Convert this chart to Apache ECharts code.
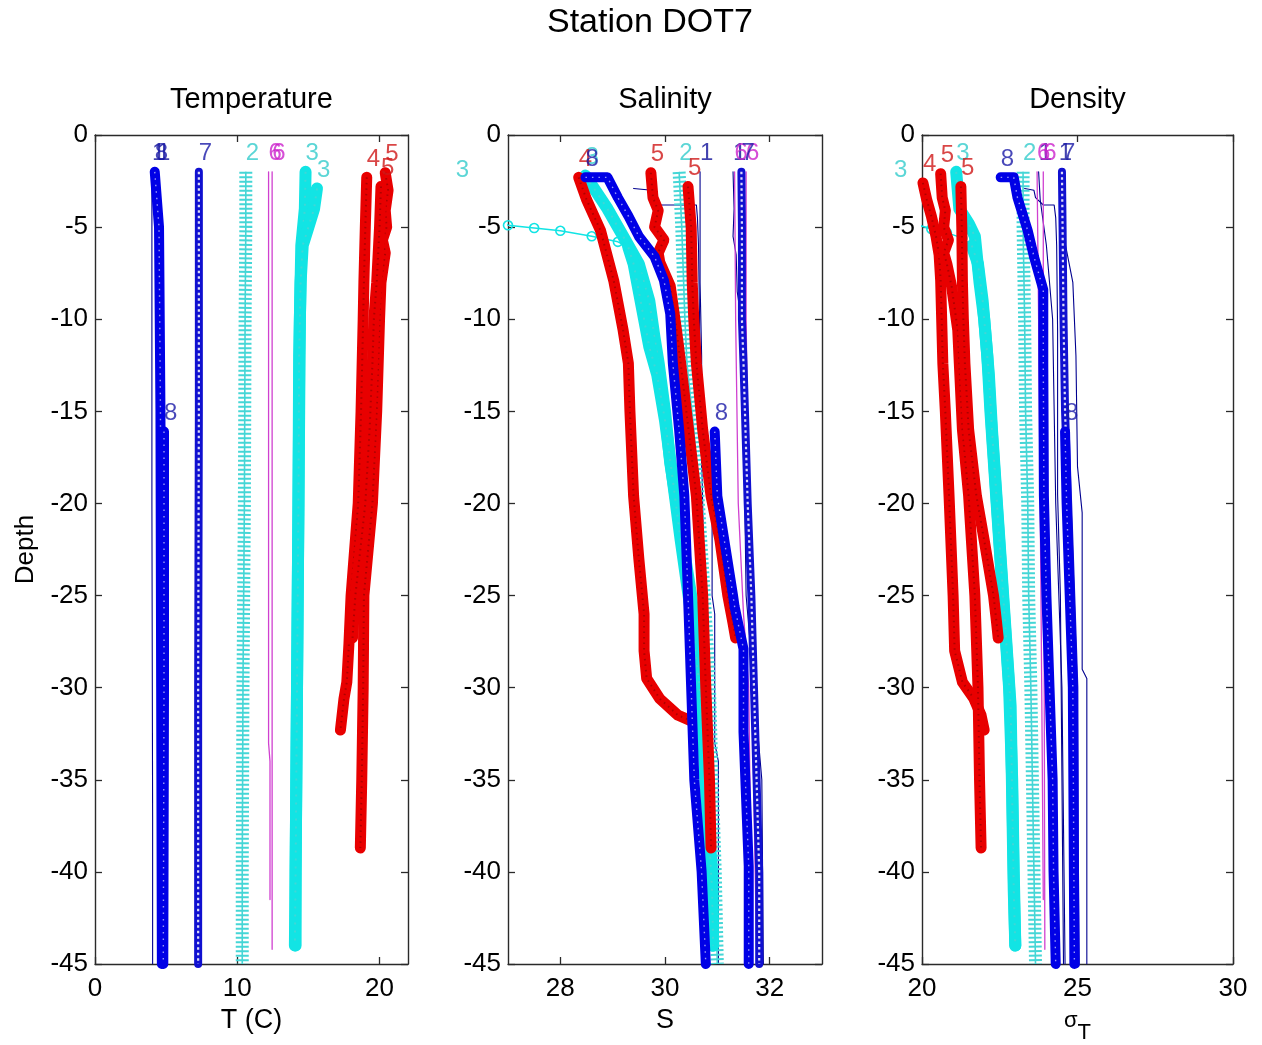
<!DOCTYPE html>
<html><head><meta charset="utf-8">
<script src="https://cdn.jsdelivr.net/npm/echarts@6/dist/echarts.min.js"></script>
<style>html,body{margin:0;padding:0;background:#fff}#c{width:1262px;height:1045px}</style>
</head><body><div id="c"></div>
<script>
// ---------- tick labels ----------
const tempTicks = [0, 10, 20];
const salTicks = [28, 30, 32];
const denTicks = [20, 25, 30];

// ---------- cast 1 (thin navy lines) : [value, depth] ----------
const T1a = [[4.0,-2],[4.0,-20],[4.05,-37],[4.05,-45]];
const S1a = [[30.67,-2],[30.67,-8],[30.7,-12],[30.7,-18],[30.9,-19.6],[30.9,-25],[30.95,-26],[30.95,-33],[31.02,-34],[31.02,-45]];
const D1a = [[24.4,-2],[24.5,-5],[24.85,-8],[24.95,-12],[25.0,-18],[25.15,-20.5],[25.15,-29],[25.3,-29.5],[25.3,-45]];
const T1b = [[4.45,-2.9],[4.5,-10],[4.6,-45]];
const S1b = [[29.4,-2.9],[29.75,-3.0],[29.8,-3.4],[29.85,-3.8],[30.6,-3.8],[30.62,-4.5],[30.64,-6],[30.66,-10],[30.68,-15],[30.72,-20],[30.75,-25],[30.8,-35],[30.85,-45]];
const D1b = [[23.3,-2.9],[23.6,-3.0],[23.65,-3.4],[23.9,-3.8],[24.25,-3.8],[24.3,-4.5],[24.33,-6],[24.36,-10.6],[24.36,-19.5],[24.45,-25],[24.5,-35],[24.55,-45]];
const T1c = [[4.35,-2],[4.4,-20],[4.5,-45]];
const S1c = [[31.3,-2],[31.32,-4],[31.3,-5.5],[31.36,-6.5],[31.38,-8.5],[31.42,-9.3],[31.45,-10],[31.5,-15],[31.55,-25],[31.7,-30],[31.85,-35],[31.88,-45]];
const D1c = [[23.75,-2],[23.8,-3.5],[24.0,-6],[24.2,-10],[24.3,-20],[24.5,-30],[24.6,-45]];

// ---------- cast 2 (cyan +) ----------
const T2 = [[10.6,-2],[10.6,-5],[10.55,-10],[10.5,-20],[10.4,-30],[10.35,-40],[10.35,-45]];
const S2 = [[30.27,-2],[30.32,-5],[30.38,-10],[30.42,-12.4],[30.55,-16],[30.63,-19.6],[30.75,-25],[30.85,-30],[30.9,-35],[30.96,-40],[31.0,-45]];
const D2 = [[23.25,-2],[23.25,-5],[23.3,-10],[23.33,-15],[23.4,-20],[23.43,-25],[23.5,-30],[23.55,-35],[23.6,-40],[23.65,-45]];

// ---------- cast 3 (cyan circles) ----------
const T3a = [[14.8,-2],[14.75,-4],[14.5,-6],[14.4,-10],[14.3,-20],[14.2,-30],[14.1,-40],[14.1,-44]];
const S3a = [[28.48,-2.2],[28.9,-4],[29.2,-5.5],[29.5,-7],[29.7,-9],[29.8,-11],[29.88,-12.4],[30.0,-15],[30.1,-17.8],[30.3,-21.4],[30.5,-25],[30.7,-30],[30.77,-35],[30.9,-40],[30.92,-44]];
const D3a = [[21.1,-2],[21.2,-4],[21.5,-4.8],[21.7,-5.5],[21.85,-8],[22.0,-10],[22.1,-12],[22.2,-15],[22.4,-20],[22.6,-25],[22.8,-30],[22.9,-35],[22.95,-40],[23.0,-44]];
const T3b = [[15.6,-2.9],[15.4,-4],[15.0,-5],[14.6,-6],[14.45,-8],[14.35,-12],[14.3,-20],[14.2,-30],[14.1,-40],[14.05,-44]];
const S3b = [[26.0,-2.9],[26.6,-4],[27.0,-4.9],[27.5,-5.05],[28.0,-5.2],[28.6,-5.5],[29.1,-5.8],[29.3,-6.1],[29.4,-7],[29.5,-8.5],[29.6,-10],[29.7,-11.5],[29.85,-13],[30.0,-15.5],[30.3,-22],[30.5,-26],[30.7,-31],[30.9,-41],[30.92,-44]];
const D3b = [[19.1,-2.9],[19.5,-4],[19.9,-4.9],[20.3,-5.1],[20.8,-5.3],[21.3,-5.6],[21.6,-6.0],[21.8,-7],[21.95,-9],[22.05,-11],[22.15,-13],[22.25,-16],[22.45,-21],[22.65,-26],[22.85,-31],[22.95,-41],[23.0,-44]];

// ---------- cast 4 (red) ----------
const T4 = [[19.1,-2.3],[19.0,-5],[18.9,-8],[18.85,-10],[18.7,-15],[18.5,-20],[18.0,-25],[17.85,-27.6],[17.7,-29.7],[17.5,-30.6],[17.25,-32.3]];
const S4 = [[28.35,-2.3],[28.5,-3.5],[28.77,-5.2],[29.02,-7.9],[29.2,-10.6],[29.3,-12.4],[29.33,-15],[29.4,-19.6],[29.5,-23],[29.6,-26],[29.6,-28],[29.65,-29.5],[29.9,-30.6],[30.25,-31.5],[30.5,-31.8]];
const D4 = [[20.03,-2.6],[20.15,-3.5],[20.3,-4.4],[20.45,-5.5],[20.55,-6.5],[20.6,-7.9],[20.67,-12.4],[20.75,-15],[20.87,-19.6],[21.0,-25],[21.05,-28],[21.3,-29.7],[21.67,-30.6],[21.9,-31.5],[22.0,-32.3]];

// ---------- cast 5 (red) ----------
const T5a = [[20.4,-2.05],[20.6,-3],[20.4,-4.1],[20.5,-5],[20.2,-5.7],[20.4,-6.4],[20.1,-8],[20.0,-10],[19.8,-15],[19.5,-20],[18.9,-25],[18.85,-30],[18.75,-35],[18.65,-38.7]];
const S5a = [[29.73,-2.05],[29.77,-3.4],[29.87,-4.1],[29.8,-5],[29.98,-5.7],[29.87,-6.4],[29.9,-6.9],[30.1,-8.2],[30.22,-10.6],[30.3,-12.4],[30.45,-16],[30.6,-19.6],[30.72,-25],[30.78,-30],[30.85,-35],[30.88,-38.7]];
const D5a = [[20.6,-2.1],[20.65,-3.4],[20.75,-4.1],[20.7,-5],[20.85,-5.7],[20.7,-6.4],[20.8,-7],[20.95,-8.2],[21.15,-10.6],[21.2,-12.4],[21.3,-16],[21.5,-19.6],[21.7,-25],[21.8,-30],[21.85,-35],[21.9,-38.7]];
const T5b = [[20.1,-2.8],[20.0,-5],[19.8,-8],[19.6,-10],[19.5,-12.4],[19.3,-16],[19.0,-20],[18.3,-25],[18.1,-27.3]];
const S5b = [[30.44,-2.8],[30.5,-5],[30.52,-8],[30.55,-10],[30.6,-12.4],[30.72,-16],[30.88,-19.6],[31.05,-22],[31.2,-25],[31.3,-26.5],[31.35,-27.3]];
const D5b = [[21.25,-2.8],[21.28,-5],[21.3,-8],[21.33,-10],[21.38,-12.4],[21.5,-16],[21.75,-19.6],[22.0,-22],[22.3,-25],[22.4,-26.5],[22.45,-27.3]];

// ---------- cast 6 (magenta lines) ----------
const T6a = [[12.2,-2],[12.2,-33],[12.3,-34],[12.3,-41.5]];
const S6a = [[31.33,-2],[31.35,-10],[31.4,-20],[31.5,-26],[31.6,-30],[31.65,-41.5]];
const D6a = [[23.7,-2],[23.75,-10],[23.8,-20],[23.85,-30],[23.9,-41.5]];
const T6b = [[12.45,-2],[12.45,-44.2]];
const S6b = [[31.55,-2],[31.55,-10],[31.6,-20],[31.65,-28],[31.75,-44.2]];
const D6b = [[23.9,-2],[23.9,-10],[23.92,-20],[23.93,-30],[23.95,-44.2]];

// ---------- cast 7 (blue circles) ----------
const T7 = [[7.3,-2],[7.3,-15],[7.25,-30],[7.25,-45]];
const S7 = [[31.46,-2],[31.47,-5],[31.47,-10],[31.5,-12.4],[31.58,-20],[31.65,-25],[31.7,-30],[31.75,-35],[31.8,-40],[31.8,-45]];
const D7 = [[24.5,-2],[24.52,-5],[24.55,-10],[24.6,-15],[24.7,-20],[24.8,-25],[24.9,-30],[24.92,-40],[24.95,-45]];

// ---------- cast 8 (blue squares) ----------
const T8a = [[4.2,-2],[4.3,-3],[4.5,-5],[4.6,-15],[4.65,-30],[4.7,-45]];
const S8a = [[28.48,-2.3],[28.9,-2.3],[29.1,-3.4],[29.3,-4.4],[29.5,-5.5],[29.8,-6.6],[29.98,-7.9],[30.1,-9.7],[30.15,-12.4],[30.27,-16],[30.37,-19.6],[30.44,-25],[30.5,-30],[30.56,-35],[30.7,-40],[30.78,-45]];
const D8a = [[22.53,-2.3],[22.95,-2.3],[23.07,-3.4],[23.4,-5.2],[23.6,-6.6],[23.9,-8.4],[23.9,-12.4],[23.92,-19.6],[24.0,-25],[24.1,-30],[24.2,-35],[24.23,-40],[24.3,-45]];
const T8b = [[4.85,-16.1],[4.85,-30],[4.8,-45]];
const S8b = [[30.95,-16.1],[31.0,-19.6],[31.15,-22.3],[31.3,-25],[31.33,-25.6],[31.5,-27.9],[31.5,-32.4],[31.6,-39.7],[31.6,-45]];
const D8b = [[24.6,-16.1],[24.65,-20],[24.75,-25],[24.85,-30],[24.9,-45]];

// ---------- profile table (built from the arrays above) ----------
// sparse: depth above which samples are widely spaced (drawn as a thin marker line)
const profiles = [
  {label:'1', kind:'navy',   T:T1a, S:S1a, D:D1a},
  {label:null,kind:'navy',   T:T1b, S:S1b, D:D1b},
  {label:'1', kind:'navy',   T:T1c, S:S1c, D:D1c},
  {label:'2', kind:'cyanPl', T:T2,  S:S2,  D:D2},
  {label:'3', kind:'cyanCi', T:T3a, S:S3a, D:D3a},
  {label:'3', kind:'cyanCi', T:T3b, S:S3b, D:D3b, sparse:{S:-6.1, D:-6.0}},
  {label:'4', kind:'red',    T:T4,  S:S4,  D:D4},
  {label:'5', kind:'red',    T:T5a, S:S5a, D:D5a},
  {label:'5', kind:'red',    T:T5b, S:S5b, D:D5b},
  {label:'6', kind:'mag',    T:T6a, S:S6a, D:D6a},
  {label:'6', kind:'mag',    T:T6b, S:S6b, D:D6b},
  {label:'7', kind:'blueCi', T:T7,  S:S7,  D:D7},
  {label:'8', kind:'blueSq', T:T8a, S:S8a, D:D8a},
  {label:'8', kind:'blueSq', T:T8b, S:S8b, D:D8b}
];

const STY = {
  navy:   {color:'#00008f', width:1.1, lab:'#12129a'},
  mag:    {color:'#d040d0', width:1.3, lab:'#cc22cc'},
  blueSq: {color:'#0000e6', width:10,  lab:'#1a1aa8', tex:{color:'rgba(255,255,255,0.6)', width:1.4, dash:[1.5,5]}},
  blueCi: {color:'#1010d0', width:8,   lab:'#1a1aa8', tex:{color:'rgba(255,255,255,0.85)', width:2.2, dash:[2.5,3]}},
  cyanCi: {color:'#12e4e4', width:12,  lab:'#33cccc', tex:{color:'rgba(120,200,200,0.45)', width:2, dash:[2,6]}},
  cyanPl: {color:'#45d6d6', width:13,  lab:'#33cccc', dash:[2,2.5]},
  red:    {color:'#e80000', width:11,  lab:'#d01818', tex:{color:'rgba(120,0,0,0.5)', width:2, dash:[1.5,4]}}
};

const FONT = '"Liberation Sans", Arial, Helvetica, sans-serif';
const AX = '#2a2a2a';
const panels = [
  {key:'T', min:0,  max:22, ticks:tempTicks, title:'Temperature', name:'T (C)', grid:{left:95, width:313}},
  {key:'S', min:27, max:33, ticks:salTicks,  title:'Salinity',    name:'S',     grid:{left:508,width:314}},
  {key:'D', min:20, max:30, ticks:denTicks,  title:'Density',     name:'{s|σ}{t|T}', grid:{left:922,width:311}}
];

const grid = [], xAxis = [], yAxis = [], series = [];
panels.forEach((p, i) => {
  grid.push({left:p.grid.left, width:p.grid.width, top:135, height:829, outerBoundsMode:'none', containLabel:false});
  xAxis.push({
    type:'value', gridIndex:i, min:p.min, max:p.max, position:'bottom',
    axisLine:{show:true, onZero:false, lineStyle:{color:AX, width:1.4}},
    axisTick:{show:true, inside:true, length:7, customValues:p.ticks, lineStyle:{color:AX, width:1.3}},
    axisLabel:{customValues:p.ticks, fontSize:26, color:'#000', margin:12, fontFamily:FONT},
    splitLine:{show:false},
    name:p.name, nameLocation:'middle', nameGap: i===2 ? 34 : 43,
    nameTextStyle:{fontSize:27, color:'#000', fontFamily:FONT,
      rich:{s:{fontSize:22, color:'#000', fontFamily:FONT}, t:{fontSize:22, color:'#000', fontFamily:FONT, padding:[24,0,0,0]}}}
  });
});
panels.forEach((p, i) => {
  xAxis.push({
    type:'value', gridIndex:i, min:p.min, max:p.max, position:'top',
    axisLine:{show:true, onZero:false, lineStyle:{color:AX, width:1.4}},
    axisTick:{show:true, inside:true, length:7, customValues:p.ticks, lineStyle:{color:AX, width:1.3}},
    axisLabel:{show:false}, splitLine:{show:false},
    name:p.title, nameLocation:'middle', nameGap:21,
    nameTextStyle:{fontSize:29, color:'#000', fontFamily:FONT}
  });
});
panels.forEach((p, i) => {
  yAxis.push({
    type:'value', gridIndex:i, min:-45, max:0, interval:5, position:'left',
    axisLine:{show:true, onZero:false, lineStyle:{color:AX, width:1.4}},
    axisTick:{show:true, inside:true, length:7, lineStyle:{color:AX, width:1.3}},
    axisLabel:{fontSize:26, color:'#000', margin:7, fontFamily:FONT},
    splitLine:{show:false},
    name: i===0 ? 'Depth' : '', nameLocation:'middle', nameGap:56,
    nameTextStyle:{fontSize:26, color:'#000', fontFamily:FONT}
  });
});
panels.forEach((p, i) => {
  yAxis.push({
    type:'value', gridIndex:i, min:-45, max:0, interval:5, position:'right',
    axisLine:{show:true, onZero:false, lineStyle:{color:AX, width:1.4}},
    axisTick:{show:true, inside:true, length:7, lineStyle:{color:AX, width:1.3}},
    axisLabel:{show:false}, splitLine:{show:false}
  });
});

function lineSeries(i, data, ls, z, extra) {
  return Object.assign({
    type:'line', xAxisIndex:i, yAxisIndex:i, data:data, showSymbol:false, symbol:'none',
    animation:false, silent:true, z:z, lineStyle:ls
  }, extra || {});
}

panels.forEach((p, i) => {
  profiles.forEach((pr, k) => {
    const st = STY[pr.kind];
    let data = pr[p.key];
    const z = 2 + k * 0.01;
    if (pr.sparse && pr.sparse[p.key] !== undefined) {
      const thr = pr.sparse[p.key];
      const thin = data.filter(d => d[1] >= thr);
      series.push(lineSeries(i, thin, {color:st.color, width:1.5}, z,
        {showSymbol:true, showAllSymbol:true, symbol:'circle', symbolSize:9,
         itemStyle:{color:'rgba(0,0,0,0)', borderColor:st.color, borderWidth:1.6}}));
      data = data.filter(d => d[1] <= thr);
    }
    series.push(lineSeries(i, data, {color:st.color, width:st.width, type: st.dash || 'solid',
      cap: st.dash ? 'butt' : 'round', join:'round'}, z));
    if (pr.kind === 'cyanPl') {
      series.push(lineSeries(i, data, {color:st.color, width:1.6}, z));
    }
    if (st.tex) {
      series.push(lineSeries(i, data, {color:st.tex.color, width:st.tex.width, type:st.tex.dash, cap:'butt'}, z));
    }
  });
  // cast-number labels at the start of each profile
  const labData = profiles.filter(pr => pr.label).map(pr => {
    const first = pr[p.key][0];
    return {name:pr.label, value:[first[0], first[1] + 1], label:{color:STY[pr.kind].lab}};
  });
  series.push({
    type:'scatter', xAxisIndex:i, yAxisIndex:i, data:labData, symbolSize:0, clip:false,
    animation:false, silent:true, z:10,
    label:{show:true, position:'right', distance:0, formatter:'{b}', fontSize:24, fontFamily:FONT}
  });
});

const chart = echarts.init(document.getElementById('c'), null, {renderer:'canvas'});
chart.setOption({
  backgroundColor:'#fff',
  animation:false,
  title:{text:'Station DOT7', left:547, top:6, padding:0,
         textStyle:{fontSize:34, fontWeight:'normal', color:'#000', fontFamily:FONT}},
  grid, xAxis, yAxis, series
});
</script></body></html>
